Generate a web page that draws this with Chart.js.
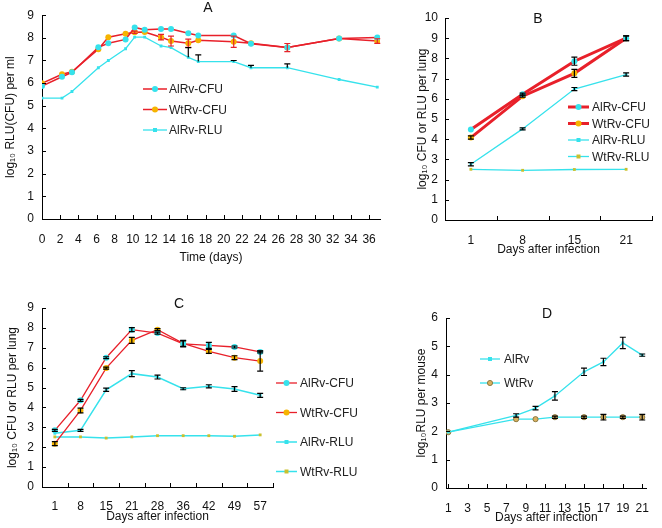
<!DOCTYPE html>
<html>
<head>
<meta charset="utf-8">
<title>Bioluminescence panels A-D</title>
<script src="https://cdn.jsdelivr.net/npm/chart.js@4.4.1/dist/chart.umd.min.js"></script>
<style>
  html, body { margin: 0; padding: 0; background: #fff; }
  #wrap { position: relative; width: 662px; height: 528px; overflow: hidden; }
  #wrap canvas { position: absolute; }
</style>
</head>
<body>
<div id="wrap">
  <canvas id="chartA" width="400" height="268" style="left:0;top:0"></canvas>
  <canvas id="chartB" width="257" height="262" style="left:405px;top:0"></canvas>
  <canvas id="chartC" width="370" height="258" style="left:0;top:270px"></canvas>
  <canvas id="chartD" width="257" height="258" style="left:405px;top:270px"></canvas>
</div>
<script>
/* ---------- Panel A: in vitro growth (days, log10 per ml) ---------- */
var daysA = [0, 2.2, 3.3, 6.2, 7.3, 9.2, 10.2, 11.3, 13.1, 14.2, 16.1, 17.2, 21.1, 23, 27, 32.7, 36.9];
var alCfuA = [5.87, 6.28, 6.48, 7.58, 7.76, 7.93, 8.46, 8.36, 8.39, 8.39, 8.2, 8.1, 8.1, 7.74, 7.57, 7.97, 8.02];
var wtCfuA = [5.99, 6.39, 6.5, 7.5, 8.03, 8.18, 8.25, 8.26, 8.03, 7.86, 7.76, 7.89, 7.83, 7.76, 7.57, 7.97, 7.86];
var alRluA = [5.34, 5.34, 5.63, 6.68, 7.0, 7.52, 8.03, 8.03, 7.64, 7.57, 7.14, 6.95, 6.95, 6.68, 6.68, 6.16, 5.82];
var wtCfuErrA = [0, 0, 0, 0, 0, 0, 0.05, 0, 0.12, 0.22, 0.18, 0, 0.25, 0, 0.18, 0, 0.1];
var alRluUpA = [0, 0, 0, 0, 0, 0, 0, 0, 0, 0, 0.43, 0.3, 0.05, 0.1, 0.17, 0, 0];

/* ---------- Panel B: lung, 1-21 days ---------- */
var daysB = ['1', '8', '15', '21'];
var alCfuB = [4.48, 6.23, 7.86, 9.0];
var wtCfuB = [4.08, 6.13, 7.26, 9.0];
var alRluB = [2.76, 4.51, 6.48, 7.2];
var wtRluB = [2.51, 2.46, 2.5, 2.51];
var alCfuErrB = [0, 0.05, 0.2, 0.12];
var wtCfuErrB = [0.08, 0.05, 0.2, 0.12];
var alRluErrB = [0.08, 0.05, 0.08, 0.08];

/* ---------- Panel C: lung, 1-57 days ---------- */
var daysC = ['1', '8', '15', '21', '28', '36', '42', '49', '57'];
var alCfuC = [2.85, 4.36, 6.5, 7.91, 7.74, 7.2, 7.12, 7.04, 6.79];
var wtCfuC = [2.18, 3.85, 5.98, 7.37, 7.91, 7.22, 6.82, 6.5, 6.33];
var alRluC = [2.7, 2.85, 4.89, 5.7, 5.53, 4.94, 5.06, 4.93, 4.61];
var wtRluC = [2.52, 2.52, 2.46, 2.52, 2.58, 2.58, 2.58, 2.55, 2.62];
var alCfuErrC = [0.05, 0.05, 0.05, 0.1, 0.05, 0.15, 0.15, 0.05, 0.05];
var wtCfuErrC = [0.1, 0.12, 0.05, 0.15, 0.05, 0.15, 0.1, 0.1, 0.5];
var alRluErrC = [0, 0.05, 0.08, 0.15, 0.1, 0.05, 0.08, 0.12, 0.1];

/* ---------- Panel D: whole mouse RLU ---------- */
var daysD = [1, 8, 10, 12, 15, 17, 19, 21];
var ticksD = [1, 3, 5, 7, 9, 11, 13, 15, 17, 19, 21];
var alD = [1.97, 2.56, 2.82, 3.25, 4.1, 4.45, 5.12, 4.69];
var wtD = [1.97, 2.43, 2.43, 2.5, 2.5, 2.5, 2.5, 2.5];
var alErrD = [0, 0.06, 0.06, 0.15, 0.13, 0.13, 0.2, 0.04];
var wtErrD = [0, 0, 0, 0.04, 0.04, 0.1, 0.04, 0.1];

(function () {
  'use strict';

  var RED = '#e8202a';
  var CYAN = '#36e2ec';
  var ORANGE = '#f6b400';
  var FONT = "'Liberation Sans', Arial, sans-serif";

  Chart.defaults.font.family = FONT;
  Chart.defaults.font.size = 12;
  Chart.defaults.color = '#111';

  function xy(xs, ys) {
    return xs.map(function (x, i) { return { x: x, y: ys[i] }; });
  }

  /* ------------------------------------------
     Plugin: error bars, inward ticks, legend, panel letter
     ------------------------------------------ */
  var panelPlugin = {
    id: 'panel',
    afterDatasetsDraw: function (chart) {
      var ctx = chart.ctx;
      var yScale = chart.scales.y;
      chart.data.datasets.forEach(function (ds, d) {
        if (!ds.errUp && !ds.errDn) return;
        var meta = chart.getDatasetMeta(d);
        ctx.save();
        ctx.strokeStyle = ds.errColor || '#000';
        ctx.lineWidth = 1.2;
        meta.data.forEach(function (pt, i) {
          var v = meta.controller.getParsed(i).y;
          var up = ds.errUp ? ds.errUp[i] : 0;
          var dn = ds.errDn ? ds.errDn[i] : 0;
          if (!up && !dn) return;
          var yt = yScale.getPixelForValue(v + up);
          var yb = yScale.getPixelForValue(v - dn);
          ctx.beginPath();
          ctx.moveTo(pt.x, yt); ctx.lineTo(pt.x, yb);
          if (up) { ctx.moveTo(pt.x - 3, yt); ctx.lineTo(pt.x + 3, yt); }
          if (dn) { ctx.moveTo(pt.x - 3, yb); ctx.lineTo(pt.x + 3, yb); }
          ctx.stroke();
        });
        ctx.restore();
      });
    },
    afterDraw: function (chart) {
      var opts = chart.options.plugins.panel;
      var ctx = chart.ctx;
      var area = chart.chartArea;
      var xs = chart.scales.x;
      var ys = chart.scales.y;

      // inward tick marks
      ctx.save();
      ctx.strokeStyle = '#000';
      ctx.lineWidth = 1;
      ctx.beginPath();
      ys.ticks.forEach(function (t) {
        var py = Math.round(ys.getPixelForValue(t.value)) + 0.5;
        ctx.moveTo(area.left, py); ctx.lineTo(area.left + 4, py);
      });
      if (xs.type === 'category') {
        var n = chart.data.labels.length;
        for (var i = 0; i <= n; i++) {
          var px = Math.round(xs.left + i * xs.width / n) + 0.5;
          ctx.moveTo(px, area.bottom); ctx.lineTo(px, area.bottom - 4);
        }
      } else {
        xs.ticks.forEach(function (t) {
          var px = Math.round(xs.getPixelForValue(t.value)) + 0.5;
          ctx.moveTo(px, area.bottom); ctx.lineTo(px, area.bottom - 4);
        });
      }
      ctx.stroke();
      ctx.restore();

      // legend
      var lg = opts.legend;
      ctx.save();
      ctx.font = '12px ' + FONT;
      ctx.textBaseline = 'middle';
      chart.data.datasets.forEach(function (ds, k) {
        var y = lg.y + k * lg.dy;
        var cx = lg.x + lg.len / 2;
        var r = ds.pointRadius;
        ctx.strokeStyle = ds.borderColor;
        ctx.lineWidth = ds.borderWidth;
        ctx.beginPath();
        ctx.moveTo(lg.x, y); ctx.lineTo(lg.x + lg.len, y);
        ctx.stroke();
        ctx.fillStyle = ds.pointBackgroundColor;
        ctx.beginPath();
        if (ds.pointStyle === 'circle') {
          ctx.arc(cx, y, r, 0, Math.PI * 2);
        } else {
          ctx.rect(cx - r, y - r, r * 2, r * 2);
        }
        ctx.fill();
        if (ds.pointBorderWidth) {
          ctx.strokeStyle = ds.pointBorderColor;
          ctx.lineWidth = ds.pointBorderWidth;
          ctx.stroke();
        }
        ctx.fillStyle = '#222';
        ctx.fillText(ds.label, lg.x + lg.len + lg.gap, y + 1);
      });
      ctx.restore();

      // panel letter
      ctx.save();
      ctx.font = '14px ' + FONT;
      ctx.textAlign = 'center';
      ctx.textBaseline = 'middle';
      ctx.fillStyle = '#111';
      ctx.fillText(opts.letter.text, opts.letter.x, opts.letter.y);
      ctx.restore();
    }
  };

  function series(label, data, line, lineW, marker, fill, radius, extra) {
    var ds = {
      label: label,
      data: data,
      borderColor: line,
      borderWidth: lineW,
      pointStyle: marker,
      pointRadius: radius,
      pointBackgroundColor: fill,
      pointBorderColor: fill,
      pointBorderWidth: 0,
      pointHoverRadius: radius,
      tension: 0,
      fill: false
    };
    Object.keys(extra || {}).forEach(function (k) { ds[k] = extra[k]; });
    return ds;
  }

  function axisY(max, width, titleText, titlePad, tickPad) {
    return {
      type: 'linear',
      min: 0,
      max: max,
      ticks: { stepSize: 1, padding: tickPad, color: '#111' },
      grid: { display: false, drawTicks: false },
      border: { display: true, color: '#000', width: 1 },
      title: { display: true, text: titleText, color: '#111', font: { size: 12 }, padding: { top: titlePad, bottom: 0 } },
      afterFit: function (s) { s.width = width; }
    };
  }

  function axisXTitle(text, pad) {
    return { display: true, text: text, color: '#111', font: { size: 12 }, padding: { top: 0, bottom: pad } };
  }

  function baseOptions(padding, legend, letter) {
    return {
      responsive: false,
      animation: false,
      layout: { padding: padding },
      plugins: {
        legend: { display: false },
        tooltip: { enabled: false },
        panel: { legend: legend, letter: letter }
      }
    };
  }

  /* ------------------------------------------
     PANEL A
     ------------------------------------------ */
  var optA = baseOptions({ top: 10, right: 20, left: 0, bottom: 0 },
    { x: 143, y: 89, dy: 20.5, len: 24, gap: 2 },
    { text: 'A', x: 208, y: 8 });
  optA.scales = {
    x: {
      type: 'linear', min: 0, max: 37.2,
      ticks: { stepSize: 2, includeBounds: false, padding: 13, color: '#111', maxRotation: 0, autoSkip: false },
      grid: { display: false, drawTicks: false },
      border: { display: true, color: '#000' },
      title: axisXTitle('Time (days)', 3),
      afterFit: function (s) { s.height = 49; }
    },
    y: axisY(9, 42, 'log\u2081\u2080 RLU(CFU) per ml', 3, 8)
  };
  new Chart(document.getElementById('chartA'), {
    type: 'line',
    data: {
      datasets: [
        series('AlRv-CFU', xy(daysA, alCfuA), RED, 1.5, 'circle', CYAN, 3),
        series('WtRv-CFU', xy(daysA, wtCfuA), RED, 1.5, 'circle', ORANGE, 3,
          { errUp: wtCfuErrA, errDn: wtCfuErrA, errColor: RED }),
        series('AlRv-RLU', xy(daysA, alRluA), CYAN, 1.3, 'rect', CYAN, 2,
          { errUp: alRluUpA, errColor: '#000' })
      ]
    },
    options: optA,
    plugins: [panelPlugin]
  });

  /* ------------------------------------------
     PANEL B
     ------------------------------------------ */
  var optB = baseOptions({ top: 18, right: 10, left: 0, bottom: 0 },
    { x: 163, y: 107, dy: 16.5, len: 21, gap: 3 },
    { text: 'B', x: 133, y: 19 });
  optB.scales = {
    x: {
      type: 'category', offset: true,
      ticks: { padding: 13, color: '#111', maxRotation: 0 },
      grid: { display: false, drawTicks: false, offset: true },
      border: { display: true, color: '#000' },
      title: axisXTitle('Days after infection', 5),
      afterFit: function (s) { s.height = 42; }
    },
    y: axisY(10, 40, 'log\u2081\u2080 CFU or RLU per lung', 10, 7)
  };
  new Chart(document.getElementById('chartB'), {
    type: 'line',
    data: {
      labels: daysB,
      datasets: [
        series('AlRv-CFU', alCfuB, RED, 3, 'circle', CYAN, 3,
          { errUp: alCfuErrB, errDn: alCfuErrB }),
        series('WtRv-CFU', wtCfuB, RED, 3, 'circle', ORANGE, 3,
          { errUp: wtCfuErrB, errDn: wtCfuErrB }),
        series('AlRv-RLU', alRluB, CYAN, 1.3, 'rect', CYAN, 2,
          { errUp: alRluErrB, errDn: alRluErrB }),
        series('WtRv-RLU', wtRluB, CYAN, 1.3, 'rect', '#c9c02e', 2)
      ]
    },
    options: optB,
    plugins: [panelPlugin]
  });

  /* ------------------------------------------
     PANEL C
     ------------------------------------------ */
  var optC = baseOptions({ top: 38, right: 97, left: 0, bottom: 0 },
    { x: 276, y: 113, dy: 29.5, len: 21, gap: 3 },
    { text: 'C', x: 179, y: 34 });
  optC.scales = {
    x: {
      type: 'category', offset: true,
      ticks: { padding: 12, color: '#111', maxRotation: 0 },
      grid: { display: false, drawTicks: false, offset: true },
      border: { display: true, color: '#000' },
      title: axisXTitle('Days after infection', 4),
      afterFit: function (s) { s.height = 41; }
    },
    y: axisY(9, 42, 'log\u2081\u2080 CFU or RLU per lung', 5, 8)
  };
  new Chart(document.getElementById('chartC'), {
    type: 'line',
    data: {
      labels: daysC,
      datasets: [
        series('AlRv-CFU', alCfuC, RED, 1.3, 'circle', CYAN, 3,
          { errUp: alCfuErrC, errDn: alCfuErrC }),
        series('WtRv-CFU', wtCfuC, RED, 1.3, 'circle', ORANGE, 3,
          { errUp: wtCfuErrC, errDn: wtCfuErrC }),
        series('AlRv-RLU', alRluC, CYAN, 1.5, 'rect', CYAN, 2,
          { errUp: alRluErrC, errDn: alRluErrC }),
        series('WtRv-RLU', wtRluC, CYAN, 1.5, 'rect', '#c9c02e', 2)
      ]
    },
    options: optC,
    plugins: [panelPlugin]
  });

  /* ------------------------------------------
     PANEL D
     ------------------------------------------ */
  var optD = baseOptions({ top: 48, right: 5, left: 0, bottom: 0 },
    { x: 75, y: 89, dy: 24, len: 20, gap: 4 },
    { text: 'D', x: 142, y: 44 });
  optD.scales = {
    x: {
      type: 'linear', min: 0.77, max: 21.46,
      afterBuildTicks: function (s) {
        s.ticks = ticksD.map(function (v) { return { value: v }; });
      },
      ticks: { padding: 13, color: '#111', maxRotation: 0, autoSkip: false },
      grid: { display: false, drawTicks: false },
      border: { display: true, color: '#000' },
      title: axisXTitle('Days after infection', 3),
      afterFit: function (s) { s.height = 40; }
    },
    y: axisY(6, 41, 'log\u2081\u2080RLU per mouse', 9, 8)
  };
  new Chart(document.getElementById('chartD'), {
    type: 'line',
    data: {
      datasets: [
        series('AlRv', xy(daysD, alD), CYAN, 1.3, 'rect', CYAN, 2,
          { errUp: alErrD, errDn: alErrD }),
        series('WtRv', xy(daysD, wtD), CYAN, 1.3, 'circle', '#d8b060', 2.6,
          { errUp: wtErrD, errDn: wtErrD, pointBorderColor: '#7a6a30', pointBorderWidth: 0.8 })
      ]
    },
    options: optD,
    plugins: [panelPlugin]
  });
})();
</script>
</body>
</html>
